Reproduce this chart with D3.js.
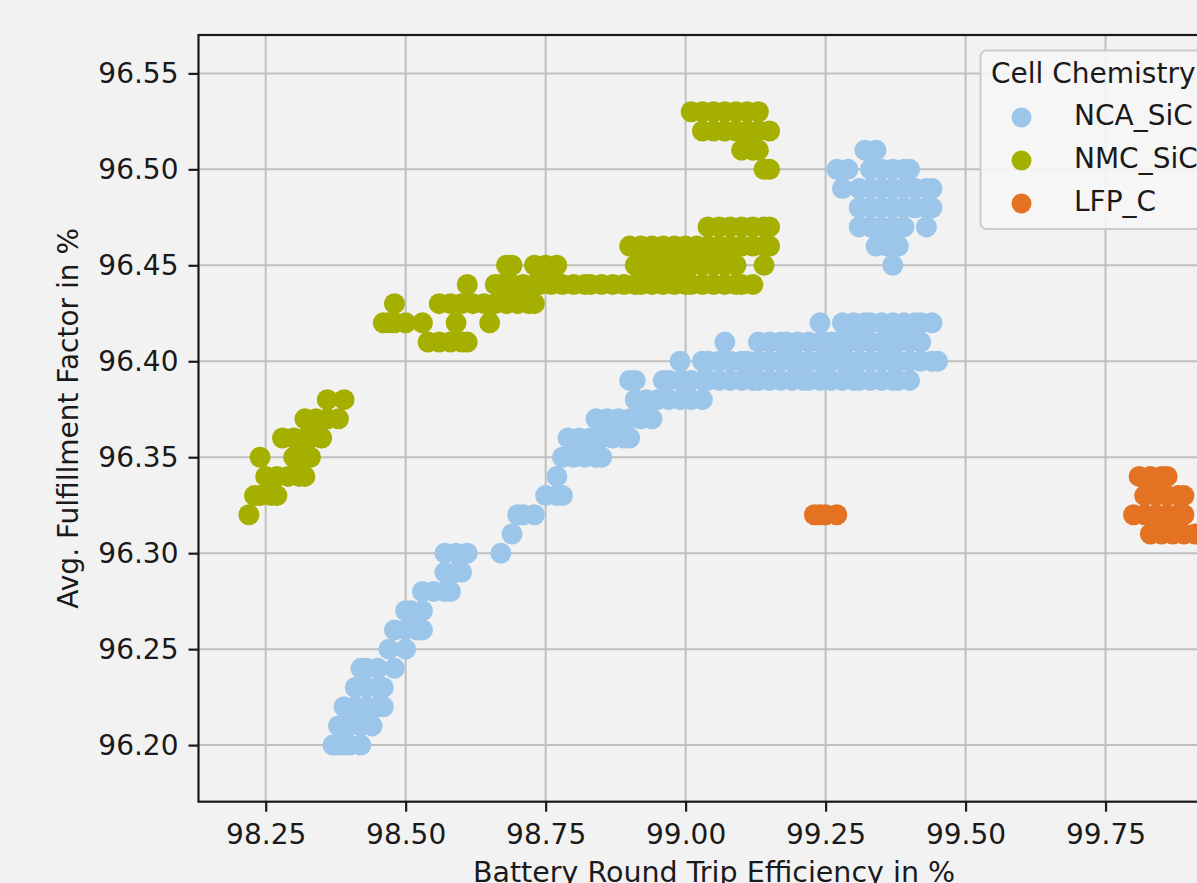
<!DOCTYPE html>
<html><head><meta charset="utf-8">
<script src="https://cdn.jsdelivr.net/npm/d3@7"></script>
<style>html,body{margin:0;padding:0;background:#f2f2f2;overflow:hidden}svg{display:block}</style>
</head><body>
<script>
// ---- data ----
const seriesNames = ["NCA_SiC", "NMC_SiC", "LFP_C"];
const seriesColors = ["#9bc6ea", "#a5af00", "#e37323"];
const xTicks = [98.25, 98.50, 98.75, 99.00, 99.25, 99.50, 99.75];
const yTicks = [96.20, 96.25, 96.30, 96.35, 96.40, 96.45, 96.50, 96.55];
const xLabel = "Battery Round Trip Efficiency in %";
const yLabel = "Avg. Fulfillment Factor in %";
const legendTitle = "Cell Chemistry";

// rows: [avg fulfillment factor, [round trip efficiencies]]
const ncaRows = [
  [96.20, [98.37, 98.38, 98.39, 98.40, 98.42]],
  [96.21, [98.38, 98.40, 98.42, 98.44]],
  [96.22, [98.39, 98.41, 98.43, 98.45, 98.46]],
  [96.23, [98.41, 98.43, 98.45, 98.46]],
  [96.24, [98.42, 98.43, 98.45, 98.48]],
  [96.25, [98.47, 98.50]],
  [96.26, [98.48, 98.50, 98.52, 98.53]],
  [96.27, [98.50, 98.51, 98.53]],
  [96.28, [98.53, 98.55, 98.57, 98.58]],
  [96.29, [98.57, 98.59, 98.60]],
  [96.30, [98.57, 98.59, 98.61, 98.67]],
  [96.31, [98.69]],
  [96.32, [98.70, 98.71, 98.73]],
  [96.33, [98.75, 98.77, 98.78]],
  [96.34, [98.77]],
  [96.35, [98.78, 98.80, 98.82, 98.84, 98.85]],
  [96.36, [98.79, 98.81, 98.83, 98.85, 98.87, 98.89, 98.90]],
  [96.37, [98.84, 98.86, 98.88, 98.90, 98.92, 98.94]],
  [96.38, [98.91, 98.93, 98.95, 98.97, 98.99, 99.01, 99.03]],
  [96.39, [98.90, 98.91, 98.96, 98.97, 98.99, 99.01, 99.03, 99.04, 99.06, 99.08, 99.10, 99.12, 99.13, 99.15, 99.17, 99.19, 99.21, 99.22, 99.24, 99.26, 99.28, 99.30, 99.31, 99.33, 99.35, 99.37, 99.38, 99.40]],
  [96.40, [98.99, 99.03, 99.04, 99.06, 99.08, 99.10, 99.11, 99.13, 99.15, 99.17, 99.19, 99.20, 99.22, 99.24, 99.26, 99.28, 99.29, 99.31, 99.33, 99.35, 99.37, 99.38, 99.40, 99.42, 99.44, 99.45]],
  [96.41, [99.07, 99.13, 99.15, 99.17, 99.18, 99.20, 99.22, 99.24, 99.26, 99.27, 99.29, 99.31, 99.33, 99.35, 99.36, 99.38, 99.40, 99.42]],
  [96.42, [99.24, 99.28, 99.30, 99.32, 99.33, 99.35, 99.37, 99.39, 99.41, 99.42, 99.44]],
  [96.45, [99.37]],
  [96.46, [99.34, 99.36, 99.38]],
  [96.47, [99.31, 99.33, 99.35, 99.37, 99.39, 99.43]],
  [96.48, [99.31, 99.33, 99.35, 99.37, 99.39, 99.41, 99.43, 99.44]],
  [96.49, [99.28, 99.31, 99.33, 99.35, 99.37, 99.39, 99.41, 99.43, 99.44]],
  [96.50, [99.27, 99.29, 99.33, 99.35, 99.37, 99.39, 99.40]],
  [96.51, [99.32, 99.34]]
];
const nmcRows = [
  [96.32, [98.22]],
  [96.33, [98.23, 98.24, 98.26, 98.27]],
  [96.34, [98.25, 98.27, 98.29, 98.31, 98.32]],
  [96.35, [98.24, 98.30, 98.31, 98.33]],
  [96.36, [98.28, 98.30, 98.32, 98.33, 98.35]],
  [96.37, [98.32, 98.34, 98.36, 98.38]],
  [96.38, [98.36, 98.39]],
  [96.41, [98.54, 98.56, 98.58, 98.60, 98.61]],
  [96.42, [98.46, 98.47, 98.48, 98.50, 98.53, 98.59, 98.65]],
  [96.43, [98.48, 98.56, 98.58, 98.60, 98.62, 98.64, 98.66, 98.68, 98.70, 98.72, 98.73]],
  [96.44, [98.61, 98.66, 98.67, 98.69, 98.71, 98.73, 98.74, 98.76, 98.78, 98.80, 98.82, 98.83, 98.85, 98.87, 98.89, 98.91, 98.92, 98.94, 98.96, 98.98, 99.00, 99.01, 99.03, 99.05, 99.07, 99.09, 99.10, 99.12]],
  [96.45, [98.68, 98.69, 98.73, 98.75, 98.77, 98.91, 98.93, 98.95, 98.97, 98.99, 99.01, 99.03, 99.05, 99.07, 99.09, 99.14]],
  [96.46, [98.90, 98.92, 98.94, 98.96, 98.98, 99.00, 99.02, 99.04, 99.06, 99.08, 99.10, 99.12, 99.14, 99.15]],
  [96.47, [99.04, 99.06, 99.08, 99.10, 99.12, 99.14, 99.15]],
  [96.50, [99.14, 99.15]],
  [96.51, [99.10, 99.12, 99.13]],
  [96.52, [99.03, 99.05, 99.07, 99.09, 99.11, 99.13, 99.15]],
  [96.53, [99.01, 99.03, 99.05, 99.07, 99.09, 99.11, 99.13]]
];
const lfpRows = [
  [96.31, [99.83, 99.85, 99.87, 99.89, 99.91]],
  [96.32, [99.23, 99.24, 99.25, 99.27, 99.80, 99.82, 99.84, 99.86, 99.88, 99.89]],
  [96.33, [99.82, 99.84, 99.86, 99.88, 99.89]],
  [96.34, [99.81, 99.83, 99.85, 99.86]]
];

// ---- layout ----
const W = 1197, H = 883;
const L = 198.5, R = 1236, T = 35, B = 801.7;
const xDomain = [98.130, 99.983];
const yDomain = [96.1705, 96.570];
const FS = 28;
const FONT = "DejaVu Sans, sans-serif";
const MR = 10.5;

const svg = d3.select("body").append("svg").attr("width", W).attr("height", H)
  .style("font-family", FONT);
svg.append("rect").attr("width", W).attr("height", H).attr("fill", "#f2f2f2");

const x = d3.scaleLinear().domain(xDomain).range([L, R]);
const y = d3.scaleLinear().domain(yDomain).range([B, T]);

// grid
const grid = svg.append("g");
grid.selectAll(".gx").data(xTicks).join("line")
  .attr("x1", d => x(d)).attr("x2", d => x(d)).attr("y1", T).attr("y2", B)
  .attr("stroke", "#bfbfbf").attr("stroke-width", 2);
grid.selectAll(".gy").data(yTicks).join("line")
  .attr("x1", L).attr("x2", R).attr("y1", d => y(d)).attr("y2", d => y(d))
  .attr("stroke", "#bfbfbf").attr("stroke-width", 2);

// points
svg.append("clipPath").attr("id", "clip").append("rect")
  .attr("x", L).attr("y", T).attr("width", R - L).attr("height", B - T);
const allRows = [ncaRows, nmcRows, lfpRows];
const pts = svg.append("g").attr("clip-path", "url(#clip)");
allRows.forEach((rows, si) => {
  const data = [];
  rows.forEach(([yv, xs]) => xs.forEach(xv => data.push({x: xv, y: yv})));
  pts.append("g").selectAll("circle").data(data).join("circle")
    .attr("cx", d => x(d.x)).attr("cy", d => y(d.y)).attr("r", MR)
    .attr("fill", seriesColors[si]);
});

// axes
const fmt = d3.format(".2f");
const xAxis = svg.append("g").attr("transform", `translate(0,${B})`)
  .call(d3.axisBottom(x).tickValues(xTicks).tickFormat(fmt).tickSize(10).tickPadding(12).tickSizeOuter(0));
const yAxis = svg.append("g").attr("transform", `translate(${L},0)`)
  .call(d3.axisLeft(y).tickValues(yTicks).tickFormat(fmt).tickSize(10).tickPadding(10).tickSizeOuter(0));
[xAxis, yAxis].forEach(a => {
  a.select(".domain").remove();
  a.selectAll(".tick line").attr("stroke", "#1a1a1a").attr("stroke-width", 2.2);
  a.selectAll(".tick text").attr("font-size", FS).attr("font-family", FONT).attr("fill", "#1a1a1a");
});
// spines
svg.append("rect").attr("x", L).attr("y", T).attr("width", R - L).attr("height", B - T)
  .attr("fill", "none").attr("stroke", "#1a1a1a").attr("stroke-width", 2.2);

// axis labels
svg.append("text").attr("x", 714).attr("y", 882).attr("text-anchor", "middle")
  .attr("font-size", 28.5).attr("fill", "#1a1a1a").text(xLabel);
svg.append("text").attr("transform", `translate(78,${(T + B) / 2}) rotate(-90)`)
  .attr("text-anchor", "middle").attr("font-size", FS).attr("fill", "#1a1a1a").text(yLabel);

// legend
const lg = svg.append("g");
lg.append("rect").attr("x", 980.5).attr("y", 50.5).attr("width", 260).attr("height", 178.5)
  .attr("rx", 6).attr("fill", "#f6f6f6").attr("fill-opacity", 0.9)
  .attr("stroke", "#cccccc").attr("stroke-width", 2);
lg.append("text").attr("x", 991).attr("y", 82.5).attr("font-size", FS).attr("fill", "#1a1a1a").text(legendTitle);
seriesNames.forEach((name, i) => {
  const by = 125 + i * 43;
  lg.append("circle").attr("cx", 1021.5).attr("cy", by - 7.5).attr("r", 10).attr("fill", seriesColors[i]);
  lg.append("text").attr("x", 1074).attr("y", by).attr("font-size", FS).attr("fill", "#1a1a1a").text(name);
});
</script>
</body></html>
